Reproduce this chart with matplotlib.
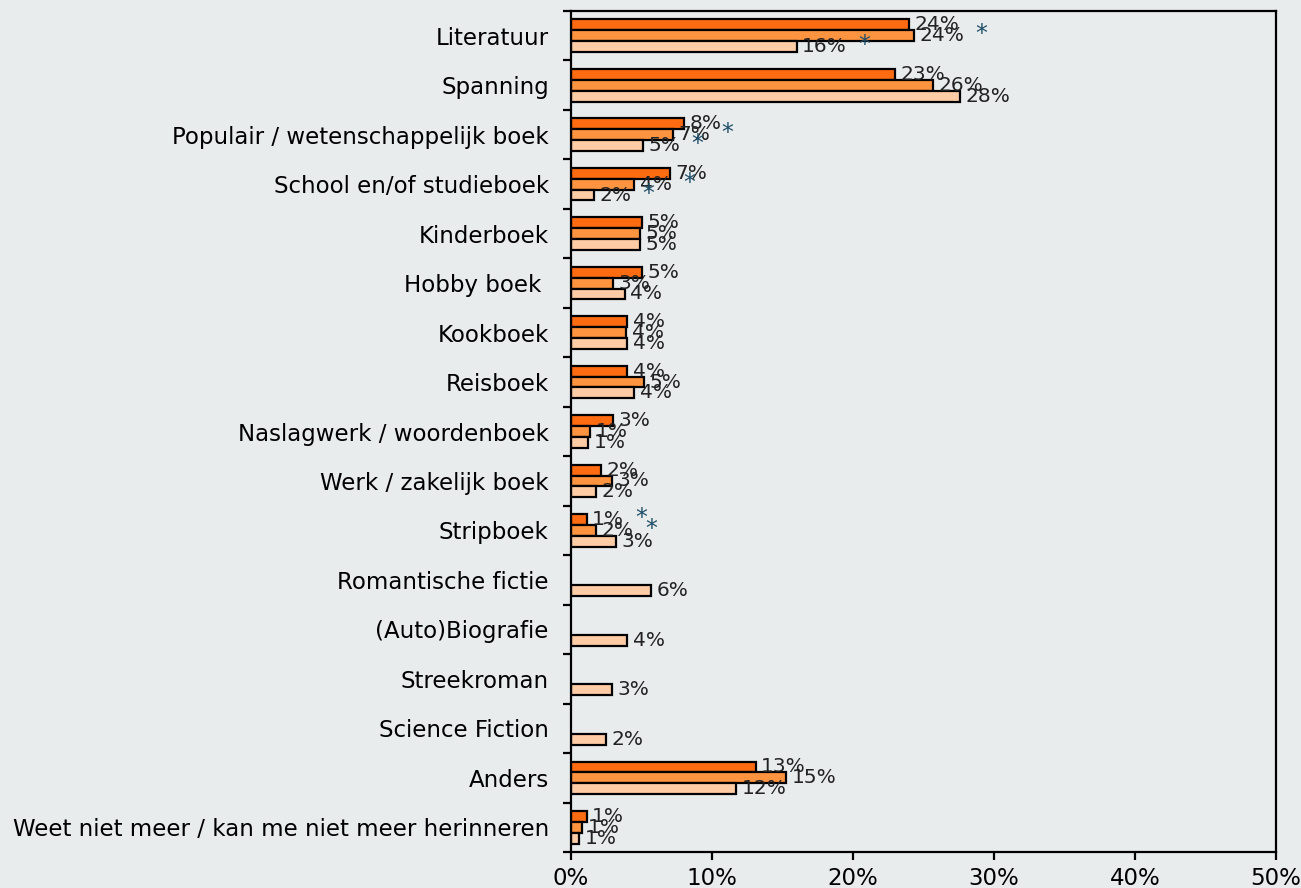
import matplotlib.pyplot as plt
import numpy as np

# Categories, top to bottom
categorieen = ["Literatuur", "Spanning", "Populair / wetenschappelijk boek",
               "School en/of studieboek", "Kinderboek", "Hobby boek ", "Kookboek",
               "Reisboek", "Naslagwerk / woordenboek", "Werk / zakelijk boek",
               "Stripboek", "Romantische fictie", "(Auto)Biografie", "Streekroman",
               "Science Fiction", "Anders",
               "Weet niet meer / kan me niet meer herinneren"]

nan = np.nan
# Percentages per series (nan = not asked)
serie_1 = [24.0, 23.0, 8.0, 7.0, 5.0, 5.0, 4.0, 4.0, 3.0, 2.1, 1.1,
           nan, nan, nan, nan, 13.1, 1.1]
serie_2 = [24.3, 25.7, 7.2, 4.5, 4.9, 3.0, 3.9, 5.2, 1.35, 2.9, 1.8,
           nan, nan, nan, nan, 15.25, 0.8]
serie_3 = [16.0, 27.6, 5.1, 1.6, 4.9, 3.8, 4.0, 4.5, 1.2, 1.8, 3.2,
           5.7, 4.0, 2.9, 2.5, 11.7, 0.6]

# Significant differences, marked with an asterisk
ster_1 = ["Stripboek"]
ster_2 = ["Literatuur", "Populair / wetenschappelijk boek",
          "School en/of studieboek", "Stripboek"]
ster_3 = ["Literatuur", "Populair / wetenschappelijk boek",
          "School en/of studieboek"]

xticks = [0, 10, 20, 30, 40, 50]

kleuren = ["#FF6B10", "#FF9440", "#FFCCA6"]
achtergrond = "#E8ECED"
sterkleur = "#1F4E68"

fig = plt.figure(figsize=(13.01, 8.88), dpi=100, facecolor=achtergrond)
ax = fig.add_axes([0.4389, 0.0405, 0.5419, 0.9471])
ax.set_facecolor(achtergrond)

y = np.arange(len(categorieen))
h = 0.22
for i, (vals, sterren, kleur) in enumerate(zip([serie_1, serie_2, serie_3],
                                               [ster_1, ster_2, ster_3], kleuren)):
    pos = y + (i - 1) * h
    for cat, p, v in zip(categorieen, pos, vals):
        if np.isnan(v):
            continue
        ax.barh(p, v, height=h, color=kleur, edgecolor="black", linewidth=1.6)
        lbl = ax.annotate(f"{v:.0f}%", xy=(v, p), xytext=(4, 0),
                          textcoords="offset points", va="center", ha="left",
                          fontsize=14.5, color="#222222")
        if cat in sterren:
            ax.annotate("*", xy=(1, 0.5), xycoords=lbl, xytext=(8, 1),
                        textcoords="offset points", va="center", ha="left",
                        fontsize=17, color=sterkleur)

ax.set_xlim(0, 50)
ax.set_ylim(len(categorieen) - 0.5, -0.5)

ax.set_xticks(xticks)
ax.set_xticklabels([f"{t}%" for t in xticks], fontsize=16.5)
ax.tick_params(axis="x", direction="out", length=6, width=1.6, pad=5, top=False)

ax.set_yticks(y)
ax.set_yticklabels(categorieen, fontsize=16.5)
ax.set_yticks(np.arange(-0.5, len(categorieen), 1), minor=True)
ax.tick_params(axis="y", which="major", length=0, pad=16)
ax.tick_params(axis="y", which="minor", direction="out", length=6, width=1.6)

for s in ax.spines.values():
    s.set_linewidth(1.6)
    s.set_color("black")

fig.savefig("out.png", dpi=100, facecolor=achtergrond)
